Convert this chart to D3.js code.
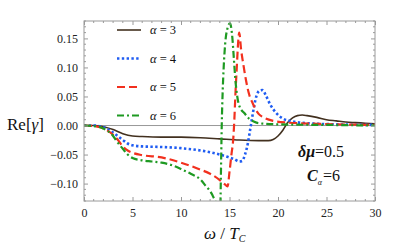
<!DOCTYPE html>
<html>
<head>
<meta charset="utf-8">
<script src="https://cdn.jsdelivr.net/npm/d3@7"></script>
<style>
  body { margin: 0; background: #fff; }
</style>
</head>
<body>
<div id="chart"></div>
<script>
// 数据: omega / T_C 与 Re[gamma]
var alphaNames = ['\u03b1 = 3', '\u03b1 = 4', '\u03b1 = 5', '\u03b1 = 6'];
var lineColors = ['#42301f', '#1f5cf2', '#f2301e', '#1e9a22'];
var lineDashes = [null, '2.4,2.4', '8,4', '7,3,2,3'];

var omega3 = [0, 1, 2, 3, 4, 5, 6, 8, 10, 12, 14, 16, 18, 19, 19.5, 20, 20.5, 21, 21.5, 22, 22.5, 23, 24, 25, 26, 27, 28, 29, 30];
var gamma3 = [0, 0, -0.002, -0.007, -0.014, -0.018, -0.019, -0.02, -0.02, -0.021, -0.023, -0.025, -0.026, -0.026, -0.024, -0.018, -0.008, 0.005, 0.013, 0.017, 0.018, 0.017, 0.014, 0.01, 0.008, 0.006, 0.005, 0.004, 0.003];

var omega4 = [0, 1, 2, 3, 4, 4.5, 5, 6, 8, 10, 12, 13, 14, 15, 15.5, 16, 16.3, 16.6, 16.9, 17.1, 17.3, 17.5, 17.8, 18.1, 18.4, 18.8, 19.2, 19.8, 20.5, 21.5, 23, 26, 30];
var gamma4 = [0, 0, -0.003, -0.012, -0.025, -0.031, -0.034, -0.036, -0.037, -0.039, -0.043, -0.046, -0.05, -0.055, -0.058, -0.062, -0.061, -0.05, -0.03, -0.01, 0.01, 0.03, 0.052, 0.06, 0.061, 0.05, 0.036, 0.022, 0.012, 0.007, 0.004, 0.002, 0.001];

var omega5 = [0, 1, 2, 3, 3.5, 4, 4.5, 5, 6, 8, 10, 12, 13, 14, 14.5, 14.8, 15.0, 15.2, 15.4, 15.5, 15.6, 15.75, 15.9, 16.0, 16.2, 16.4, 16.7, 17.0, 17.4, 18, 18.5, 19.5, 21, 24, 30];
var gamma5 = [0, -0.001, -0.005, -0.016, -0.025, -0.036, -0.043, -0.047, -0.051, -0.055, -0.064, -0.076, -0.083, -0.094, -0.101, -0.105, -0.08, -0.05, -0.02, 0.01, 0.05, 0.1, 0.145, 0.16, 0.13, 0.108, 0.078, 0.055, 0.038, 0.02, 0.014, 0.008, 0.005, 0.003, 0.001];

var omega6 = [0, 1, 2, 2.5, 3, 3.5, 4, 4.5, 5, 6, 7, 8, 9, 10, 11, 12, 12.6, 13.0, 13.3, 13.6, 13.8, 14.0, 14.1, 14.2, 14.3, 14.4, 14.55, 14.8, 15.05, 15.3, 15.45, 15.6, 15.8, 16.1, 16.5, 17.0, 17.5, 18, 20, 25, 30];
var gamma6 = [0, -0.001, -0.005, -0.01, -0.018, -0.03, -0.04, -0.05, -0.056, -0.06, -0.062, -0.064, -0.068, -0.075, -0.083, -0.093, -0.105, -0.113, -0.122, -0.135, -0.2, -0.2, -0.1, 0.0, 0.06, 0.1, 0.14, 0.168, 0.176, 0.15, 0.115, 0.08, 0.05, 0.03, 0.022, 0.012, 0.007, 0.004, 0.002, 0.001, 0];

var xTicks = [0, 5, 10, 15, 20, 25, 30];
var yTicks = [-0.10, -0.05, 0.00, 0.05, 0.10, 0.15];

var seriesAll = [
    { x: omega3, y: gamma3 },
    { x: omega4, y: gamma4 },
    { x: omega5, y: gamma5 },
    { x: omega6, y: gamma6 }
];

var width = 415,
    height = 250;
// 注意: 不能用 top 作变量名 (window.top)
var plotL = 84, plotR = 375, plotT = 21, plotB = 201;
var serif = 'Liberation Serif';

var svg = d3.select('#chart').append('svg')
    .attr('width', width)
    .attr('height', height);

var xScale = d3.scaleLinear().domain([0, 30]).range([plotL, plotR]);
var yScale = d3.scaleLinear().domain([-0.13, 0.18]).range([plotB, plotT]);

svg.append('clipPath').attr('id', 'plotClip')
    .append('rect')
    .attr('x', plotL).attr('y', plotT)
    .attr('width', plotR - plotL).attr('height', plotB - plotT);

// y=0 参考线
svg.append('line')
    .attr('x1', plotL).attr('x2', plotR)
    .attr('y1', yScale(0)).attr('y2', yScale(0))
    .attr('stroke', '#999').attr('stroke-width', 1);

// 曲线
var line = d3.line()
    .x(function(d) { return xScale(d[0]); })
    .y(function(d) { return yScale(d[1]); })
    .curve(d3.curveMonotoneX);

function lineWidth(i) {
    return i == 0 ? 1.6 : (i == 1 ? 2.6 : 2.2);
}

var curves = svg.append('g').attr('clip-path', 'url(#plotClip)');
seriesAll.forEach(function(s, i) {
    var pts = s.x.map(function(v, k) { return [v, s.y[k]]; });
    curves.append('path')
        .attr('d', line(pts))
        .attr('fill', 'none')
        .attr('stroke', lineColors[i])
        .attr('stroke-width', lineWidth(i))
        .attr('stroke-dasharray', lineDashes[i]);
});

// 边框和刻度 (Mathematica 风格, 刻度朝内)
var frameColor = '#9a9a9a';
var axisBottom = d3.axisBottom(xScale).tickValues(xTicks).tickSizeInner(-4).tickSizeOuter(0).tickFormat(d3.format('d'));
var axisLeft = d3.axisLeft(yScale).tickValues(yTicks).tickSizeInner(-4).tickSizeOuter(0).tickFormat(d3.format('.2f'));
var minorX = d3.range(0, 31, 1).filter(function(v) { return v % 5 != 0; });
var minorY = d3.range(-13, 19, 1).map(function(v) { return v / 100; }).filter(function(v) { return Math.round(v * 100) % 5 != 0; });

function styleAxis(g) {
    g.attr('font-family', serif);
    g.select('.domain').remove();
    g.selectAll('line').attr('stroke', frameColor);
    g.selectAll('text')
        .attr('fill', '#222')
        .style('font-family', serif)
        .style('font-size', '12px')
        .text(function() { return d3.select(this).text().replace('-', '\u2212'); });
}

svg.append('g').attr('transform', 'translate(0,' + plotB + ')').call(axisBottom).call(styleAxis)
    .selectAll('text').attr('y', 5).attr('dy', '0.9em');
svg.append('g').attr('transform', 'translate(' + plotL + ',0)').call(axisLeft).call(styleAxis)
    .selectAll('text').attr('x', -6);
svg.append('g').attr('transform', 'translate(0,' + plotT + ')')
    .call(d3.axisTop(xScale).tickValues(xTicks).tickSizeInner(-4).tickSizeOuter(0).tickFormat(''))
    .call(styleAxis);
svg.append('g').attr('transform', 'translate(' + plotR + ',0)')
    .call(d3.axisRight(yScale).tickValues(yTicks).tickSizeInner(-4).tickSizeOuter(0).tickFormat(''))
    .call(styleAxis);

// 次刻度
var minor = svg.append('g').attr('stroke', frameColor).attr('stroke-width', 1);
minorX.forEach(function(v) {
    minor.append('line').attr('x1', xScale(v)).attr('x2', xScale(v)).attr('y1', plotB).attr('y2', plotB - 2);
    minor.append('line').attr('x1', xScale(v)).attr('x2', xScale(v)).attr('y1', plotT).attr('y2', plotT + 2);
});
minorY.forEach(function(v) {
    minor.append('line').attr('y1', yScale(v)).attr('y2', yScale(v)).attr('x1', plotL).attr('x2', plotL + 2);
    minor.append('line').attr('y1', yScale(v)).attr('y2', yScale(v)).attr('x1', plotR).attr('x2', plotR - 2);
});

svg.append('rect')
    .attr('x', plotL).attr('y', plotT)
    .attr('width', plotR - plotL).attr('height', plotB - plotT)
    .attr('fill', 'none').attr('stroke', frameColor).attr('stroke-width', 1);

function addText(x, y, size) {
    return svg.append('text').attr('x', x).attr('y', y)
        .style('font-family', serif).style('font-size', size + 'px').attr('fill', '#111');
}

// 图例
alphaNames.forEach(function(name, i) {
    var ly = 30 + i * 28.5;
    svg.append('line')
        .attr('x1', 117).attr('x2', 141)
        .attr('y1', ly).attr('y2', ly)
        .attr('stroke', lineColors[i])
        .attr('stroke-width', lineWidth(i))
        .attr('stroke-dasharray', lineDashes[i]);
    var t = addText(150, ly + 4, 12.5);
    t.append('tspan').style('font-style', 'italic').text('\u03b1');
    t.append('tspan').text(name.slice(1));
});

// 坐标轴标题
var yt = addText(7, 130, 17);
yt.append('tspan').text('Re[');
yt.append('tspan').style('font-style', 'italic').text('\u03b3');
yt.append('tspan').text(']');

var xt = addText(204, 239, 17);
xt.append('tspan').style('font-style', 'italic').text('\u03c9');
xt.append('tspan').text(' / ');
xt.append('tspan').style('font-style', 'italic').text('T');
xt.append('tspan').style('font-style', 'italic').style('font-size', '10px').attr('dy', 3).text('C');

// 参数注释
var a1 = addText(298, 157, 16);
a1.append('tspan').style('font-style', 'italic').style('font-weight', 'bold').text('\u03b4\u03bc');
a1.append('tspan').text('=0.5');
var a2 = addText(307, 181, 16);
a2.append('tspan').style('font-style', 'italic').style('font-weight', 'bold').text('C');
a2.append('tspan').style('font-size', '8px').style('font-style', 'italic').attr('dy', 4).text('\u03b1');
a2.append('tspan').attr('dy', -4).attr('dx', 1).text('=6');
</script>
</body>
</html>
